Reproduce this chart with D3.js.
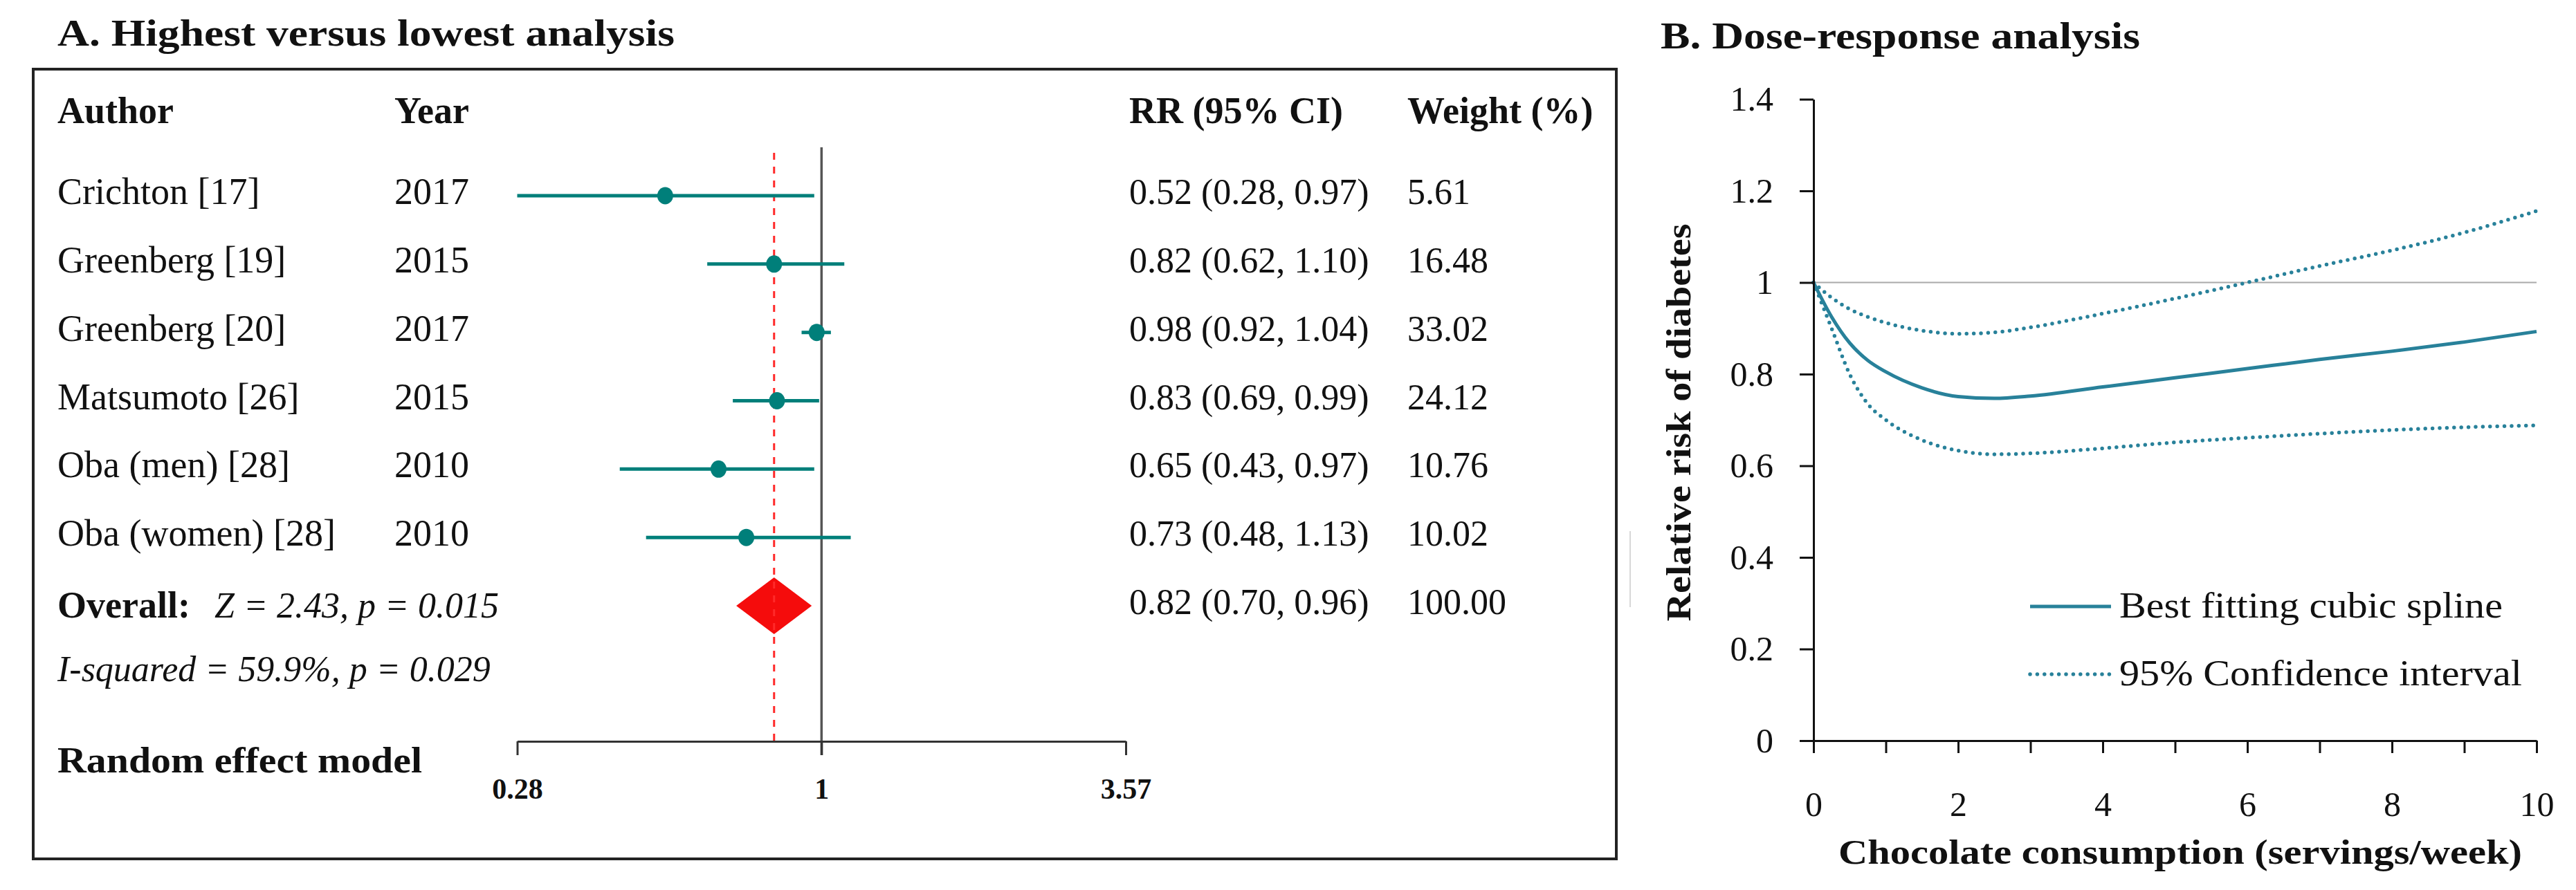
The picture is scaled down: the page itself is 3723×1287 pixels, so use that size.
<!DOCTYPE html>
<html>
<head>
<meta charset="utf-8">
<script src="https://cdn.jsdelivr.net/npm/d3@7"></script>
<style>
  html, body { margin: 0; padding: 0; background: #fff; }
  svg { display: block; }
  text { font-family: "Liberation Serif", "Times New Roman", serif; fill: #111; }
</style>
</head>
<body>
<svg id="chart" width="3723" height="1287"></svg>
<script>
// ---------- A. highest vs lowest (forest plot)
const authors = ["Crichton [17]", "Greenberg [19]", "Greenberg [20]", "Matsumoto [26]", "Oba (men) [28]", "Oba (women) [28]"];
const years = ["2017", "2015", "2017", "2015", "2010", "2010"];
const rr = [0.52, 0.82, 0.98, 0.83, 0.65, 0.73];
const ciLow = [0.28, 0.62, 0.92, 0.69, 0.43, 0.48];
const ciHigh = [0.97, 1.10, 1.04, 0.99, 0.97, 1.13];
const weights = ["5.61", "16.48", "33.02", "24.12", "10.76", "10.02"];
const overallRR = 0.82, overallLow = 0.70, overallHigh = 0.96, overallWeight = "100.00";
const zStat = "2.43", zP = "0.015", iSquared = "59.9", iSquaredP = "0.029";
const forestTicks = [0.28, 1, 3.57];
const headerLabels = ["Author", "Year", "RR (95% CI)", "Weight (%)"];

// ---------- B. dose-response
const doseX = [0, 0.25, 0.5, 0.75, 1, 1.5, 2, 2.5, 3, 4, 5, 6, 7, 8, 9, 10];
const splineRR = [1.0, 0.925, 0.868, 0.83, 0.805, 0.770, 0.751, 0.747, 0.752, 0.772, 0.792, 0.812, 0.832, 0.850, 0.870, 0.893];
const upperRR = [1.0, 0.967, 0.942, 0.925, 0.912, 0.895, 0.888, 0.891, 0.902, 0.932, 0.965, 1.0, 1.036, 1.070, 1.109, 1.156];
const lowerRR = [1.0, 0.90, 0.80, 0.735, 0.70, 0.656, 0.633, 0.625, 0.627, 0.638, 0.651, 0.661, 0.670, 0.678, 0.684, 0.688];
const doseTicks = [0, 1, 2, 3, 4, 5, 6, 7, 8, 9, 10];
const riskTicks = [0, 0.2, 0.4, 0.6, 0.8, 1, 1.2, 1.4];
const legendLabels = ["Best fitting cubic spline", "95% Confidence interval"];

const teal = "#007f7a";
const blue = "#28819a";

const svg = d3.select("#chart");

// stretch text to the width it has in the original (wider serif face)
function fit(sel, w) {
    return sel.attr("textLength", w).attr("lengthAdjust", "spacingAndGlyphs");
}

// ================= panel A =================
const fx = d3.scaleLog().domain([0.28, 3.57]).range([747.5, 1627]);
const fy = d3.scaleLinear().domain([0, 6]).range([283, 876]);
const A = svg.append("g");

fit(A.append("text").attr("x", 83).attr("y", 66)
    .attr("font-size", 54).attr("font-weight", "bold")
    .text("A. Highest versus lowest analysis"), 892);

A.append("rect")
    .attr("x", 48).attr("y", 100)
    .attr("width", 2288).attr("height", 1142)
    .attr("fill", "none").attr("stroke", "#222").attr("stroke-width", 4);

const colX = [83, 570, 1632, 2034];
A.selectAll(".hdr")
    .data(headerLabels)
    .join("text")
    .attr("class", "hdr")
    .attr("x", (d, i) => colX[i])
    .attr("y", 178)
    .attr("font-size", 54)
    .attr("font-weight", "bold")
    .text(d => d);

// reference lines
A.append("line")
    .attr("x1", fx(1)).attr("x2", fx(1))
    .attr("y1", 213).attr("y2", 1092)
    .attr("stroke", "#555").attr("stroke-width", 3.5);

const idx = d3.range(authors.length);

// overall diamond
A.append("path")
    .attr("d", `M${fx(overallLow)},${fy(6)} L${fx(overallRR)},${fy(6) - 41} L${fx(overallHigh)},${fy(6)} L${fx(overallRR)},${fy(6) + 41} Z`)
    .attr("fill", "#f50c0c");

A.append("line")
    .attr("x1", fx(overallRR)).attr("x2", fx(overallRR))
    .attr("y1", 221).attr("y2", 1072)
    .attr("stroke", "#ff2a2a").attr("stroke-width", 3)
    .attr("stroke-dasharray", "10,10");

A.selectAll(".ci")
    .data(idx)
    .join("line")
    .attr("class", "ci")
    .attr("x1", i => fx(ciLow[i]))
    .attr("x2", i => fx(ciHigh[i]))
    .attr("y1", i => fy(i))
    .attr("y2", i => fy(i))
    .attr("stroke", teal).attr("stroke-width", 5);

A.selectAll(".pt")
    .data(idx)
    .join("ellipse")
    .attr("class", "pt")
    .attr("cx", i => fx(rr[i]))
    .attr("cy", i => fy(i))
    .attr("rx", 11.5).attr("ry", 12.5)
    .attr("fill", teal);

const f2 = d3.format(".2f");
const rows = A.selectAll(".row").data(idx).join("g").attr("class", "row");
rows.append("text").attr("x", colX[0]).attr("y", i => fy(i) + 12).attr("font-size", 54).text(i => authors[i]);
rows.append("text").attr("x", colX[1]).attr("y", i => fy(i) + 12).attr("font-size", 54).text(i => years[i]);
rows.append("text").attr("x", colX[2]).attr("y", i => fy(i) + 12).attr("font-size", 52)
    .text(i => `${f2(rr[i])} (${f2(ciLow[i])}, ${f2(ciHigh[i])})`);
rows.append("text").attr("x", colX[3]).attr("y", i => fy(i) + 12).attr("font-size", 52).text(i => weights[i]);

// overall row
A.append("text").attr("x", colX[0]).attr("y", fy(6) + 17)
    .attr("font-size", 54).attr("font-weight", "bold").text("Overall:");
A.append("text").attr("x", 310).attr("y", fy(6) + 17)
    .attr("font-size", 52).attr("font-style", "italic")
    .text(`Z = ${zStat}, p = ${zP}`);
A.append("text").attr("x", colX[2]).attr("y", fy(6) + 12).attr("font-size", 52)
    .text(`${f2(overallRR)} (${f2(overallLow)}, ${f2(overallHigh)})`);
A.append("text").attr("x", colX[3]).attr("y", fy(6) + 12).attr("font-size", 52).text(overallWeight);

A.append("text").attr("x", colX[0]).attr("y", 985)
    .attr("font-size", 52).attr("font-style", "italic")
    .text(`I-squared = ${iSquared}%, p = ${iSquaredP}`);

fit(A.append("text").attr("x", colX[0]).attr("y", 1117)
    .attr("font-size", 52).attr("font-weight", "bold")
    .text("Random effect model"), 527);

const fAxis = A.append("g")
    .attr("transform", "translate(0,1072)")
    .call(d3.axisBottom(fx).tickValues(forestTicks).tickFormat(d => d)
        .tickSize(20).tickSizeOuter(0).tickPadding(33))
    .attr("font-size", 42).attr("font-weight", "bold");
fAxis.selectAll("path, line").attr("stroke", "#333").attr("stroke-width", 3);

// ================= panel B =================
const bx = d3.scaleLinear().domain([0, 10]).range([2621, 3666]);
const by = d3.scaleLinear().domain([0, 1.4]).range([1071, 143.5]);
const B = svg.append("g");

fit(B.append("text").attr("x", 2400).attr("y", 70)
    .attr("font-size", 54).attr("font-weight", "bold")
    .text("B. Dose-response analysis"), 693);

// stray light rule left of the axis title in the original
B.append("line")
    .attr("x1", 2356).attr("x2", 2356).attr("y1", 768).attr("y2", 878)
    .attr("stroke", "#d8d8d8").attr("stroke-width", 2);

B.append("line")
    .attr("x1", bx(0)).attr("x2", bx(10))
    .attr("y1", by(1)).attr("y2", by(1))
    .attr("stroke", "#aaa").attr("stroke-width", 2);

const curve = d3.line()
    .x((d, i) => bx(doseX[i]))
    .y(d => by(d))
    .curve(d3.curveMonotoneX);

B.append("path").attr("d", curve(upperRR))
    .attr("fill", "none").attr("stroke", blue).attr("stroke-width", 5.5)
    .attr("stroke-linecap", "round").attr("stroke-dasharray", "0 10.4");
B.append("path").attr("d", curve(lowerRR))
    .attr("fill", "none").attr("stroke", blue).attr("stroke-width", 5.5)
    .attr("stroke-linecap", "round").attr("stroke-dasharray", "0 10.4");
B.append("path").attr("d", curve(splineRR))
    .attr("fill", "none").attr("stroke", blue).attr("stroke-width", 5);

const yAxis = B.append("g")
    .attr("transform", `translate(${bx(0)},0)`)
    .call(d3.axisLeft(by).tickValues(riskTicks).tickFormat(d => d)
        .tickSize(20).tickSizeOuter(0).tickPadding(38))
    .attr("font-size", 50);
yAxis.selectAll("path, line").attr("stroke", "#111").attr("stroke-width", 3);

const xAxis = B.append("g")
    .attr("transform", `translate(0,${by(0)})`)
    .call(d3.axisBottom(bx).tickValues(doseTicks).tickFormat(d => d % 2 === 0 ? d : "")
        .tickSize(18).tickSizeOuter(0).tickPadding(55))
    .attr("font-size", 50);
xAxis.selectAll("path, line").attr("stroke", "#111").attr("stroke-width", 3);

fit(B.append("text")
    .attr("transform", "translate(2443,611) rotate(-90)")
    .attr("text-anchor", "middle")
    .attr("font-size", 50).attr("font-weight", "bold")
    .text("Relative risk of diabetes"), 575);

fit(B.append("text")
    .attr("x", 3151).attr("y", 1249)
    .attr("text-anchor", "middle")
    .attr("font-size", 50).attr("font-weight", "bold")
    .text("Chocolate consumption (servings/week)"), 988);

// legend
const legY = [877, 975];
const legW = [554, 582];
const leg = B.selectAll(".leg").data(legendLabels).join("g").attr("class", "leg");
leg.append("line")
    .attr("x1", 2934).attr("x2", 3051)
    .attr("y1", (d, i) => legY[i]).attr("y2", (d, i) => legY[i])
    .attr("stroke", blue)
    .attr("stroke-width", (d, i) => i === 0 ? 5 : 5.5)
    .attr("stroke-linecap", (d, i) => i === 0 ? "butt" : "round")
    .attr("stroke-dasharray", (d, i) => i === 0 ? null : "0 10.4");
leg.append("text")
    .attr("x", 3063)
    .attr("y", (d, i) => legY[i] + 16)
    .attr("font-size", 52)
    .attr("textLength", (d, i) => legW[i])
    .attr("lengthAdjust", "spacingAndGlyphs")
    .text(d => d);
</script>
</body>
</html>
